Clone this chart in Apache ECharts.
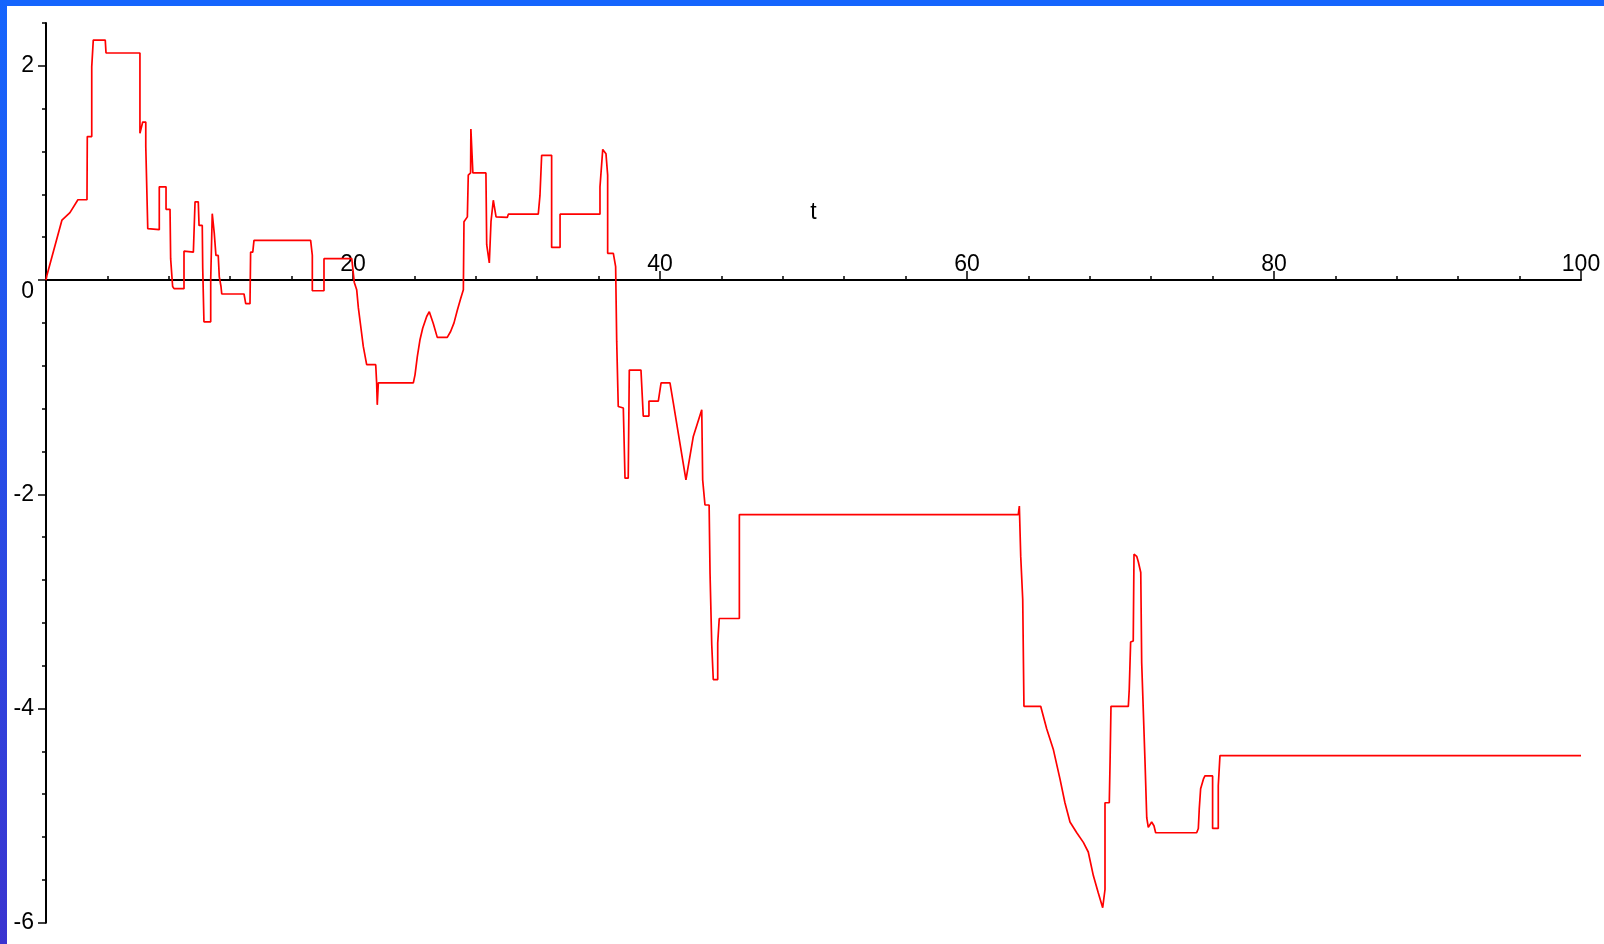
<!DOCTYPE html>
<html>
<head>
<meta charset="utf-8">
<title>t plot</title>
<script src="https://cdn.jsdelivr.net/npm/echarts@6/dist/echarts.min.js"></script>
<style>
  html, body { margin: 0; padding: 0; background: #ffffff; }
  #chart { width: 1604px; height: 944px; }
</style>
</head>
<body>
<div id="chart"></div>
<script>
// Sampled path: time values and the matching curve values
const tPoints = [
  0, 0.07, 1.04, 1.56, 2.08, 2.67, 2.69, 2.98, 2.98, 3.08, 3.08, 3.86, 3.91, 6.12, 6.12, 6.25, 6.3, 6.5, 6.5, 6.62,
  6.63, 7.38, 7.38, 7.82, 7.82, 8.08, 8.12, 8.25, 8.25, 8.34, 8.99, 8.99, 9.6, 9.71, 9.92, 9.97, 10.18, 10.21, 10.29, 10.29,
  10.73, 10.73, 10.83, 10.96, 11.07, 11.22, 11.29, 11.4, 11.45, 12.9, 13.01, 13.29, 13.33, 13.47, 13.55, 17.24, 17.35, 17.35, 18.11, 18.11,
  19.92, 20.08, 20.24, 20.35, 20.52, 20.67, 20.89, 21.48, 21.54, 21.58, 21.65, 23.93, 24.04, 24.19, 24.36, 24.54, 24.8, 24.97, 25.23, 25.49,
  26.14, 26.36, 26.58, 26.8, 27.02, 27.19, 27.23, 27.45, 27.51, 27.66, 27.68, 27.8, 27.81, 28.66, 28.71, 28.88, 28.99, 29.14, 29.32, 30.05,
  30.12, 32.07, 32.18, 32.29, 32.94, 32.94, 33.49, 33.49, 36.09, 36.09, 36.27, 36.48, 36.59, 36.59, 36.96, 37.11, 37.18, 37.28, 37.61, 37.72,
  37.93, 38.0, 38.76, 38.91, 39.28, 39.28, 39.89, 40.07, 40.65, 40.87, 41.19, 41.69, 42.17, 42.72, 42.78, 42.93, 43.2, 43.26, 43.37, 43.37,
  43.47, 43.47, 43.76, 43.76, 43.86, 43.86, 45.17, 45.17, 63.34, 63.41, 63.5, 63.63, 63.71, 64.8, 65.19, 65.62, 66.06, 66.38, 66.71, 67.15,
  67.58, 67.9, 68.23, 68.55, 68.84, 68.99, 68.99, 69.27, 69.32, 69.38, 70.51, 70.57, 70.66, 70.83, 70.88, 71.06, 71.16, 71.32, 71.38, 71.6,
  71.71, 71.81, 71.92, 72.03, 72.18, 72.29, 74.96, 75.07, 75.13, 75.22, 75.4, 75.5, 76.0, 76.0, 76.37, 76.37, 76.48, 100
];
const yPoints = [
  0, 0.05, 0.56, 0.63, 0.75, 0.75, 1.34, 1.34, 1.99, 1.99, 2.24, 2.24, 2.12, 2.12, 1.37, 1.37, 1.475, 1.475, 1.25, 1.25,
  0.48, 0.47, 0.87, 0.87, 0.66, 0.66, 0.2, 0.2, -0.06, -0.08, -0.08, 0.27, 0.26, 0.73, 0.73, 0.51, 0.51, 0.11, 0.11, -0.39,
  -0.39, 0, 0.62, 0.44, 0.23, 0.23, 0.03, -0.06, -0.13, -0.13, -0.22, -0.22, 0.26, 0.26, 0.37, 0.37, 0.23, -0.1, -0.1, 0.2,
  0.2, -0.02, -0.09, -0.26, -0.45, -0.62, -0.79, -0.79, -0.96, -1.165, -0.96, -0.96, -0.885, -0.715, -0.56, -0.45, -0.34, -0.295, -0.405, -0.535,
  -0.535, -0.48, -0.4, -0.28, -0.17, -0.09, 0.545, 0.59, 0.98, 1.0, 1.41, 1.41, 1.0, 1.0, 0.33, 0.16, 0.545, 0.745, 0.59, 0.585,
  0.615, 0.615, 0.79, 1.165, 1.165, 0.305, 0.305, 0.615, 0.615, 0.87, 1.22, 1.18, 0.98, 0.25, 0.25, 0.125, -0.575, -1.18, -1.195, -1.85,
  -1.85, -0.84, -0.84, -1.27, -1.27, -1.13, -1.13, -0.96, -0.96, -1.15, -1.43, -1.865, -1.46, -1.21, -1.865, -2.1, -2.1, -2.74, -2.74, -3.4,
  -3.4, -3.73, -3.73, -3.39, -3.39, -3.16, -3.16, -2.19, -2.19, -2.11, -2.58, -2.98, -3.98, -3.98, -4.19, -4.38, -4.66, -4.88, -5.06, -5.16,
  -5.25, -5.34, -5.56, -5.72, -5.86, -5.69, -4.88, -4.88, -4.5, -3.98, -3.98, -3.82, -3.38, -3.37, -2.56, -2.58, -2.63, -2.73, -3.57, -4.51,
  -5.02, -5.11, -5.095, -5.06, -5.095, -5.16, -5.16, -5.12, -4.94, -4.75, -4.66, -4.63, -4.63, -5.12, -5.12, -4.72, -4.44, -4.44
];

// Axis ranges and labelled ticks
const xRange = [0, 100];
const xMajorStep = 20;
const yRange = [-6, 2.4];
const yMinorStep = 0.4;
const yLabelTicks = [-6, -4, -2, 0, 2];
const xAxisName = 't';

const FONT = "'Liberation Sans', Arial, sans-serif";
const INK = '#000000';
const LABEL_SIZE = 23;

// Plot area
const WIDTH = 1604, HEIGHT = 944;
const gridLeft = 46, gridRight = 23, gridTop = 23, gridBottom = 21.3;
const plotHeight = HEIGHT - gridTop - gridBottom;
// The t axis crosses at value 0: shift it down from the top edge of the plot area
const zeroDrop = plotHeight * (yRange[1] - 0) / (yRange[1] - yRange[0]);

const linePoints = tPoints.map((t, i) => [t, yPoints[i]]);

const chart = echarts.init(document.getElementById('chart'), null, { renderer: 'canvas' });

const axisLineStyle = { color: INK, width: 2 };
const tickStyle = { color: INK, width: 1.5 };

chart.setOption({
  animation: false,
  backgroundColor: '#ffffff',
  graphic: [
    {
      type: 'rect', silent: true, z: 100,
      shape: { x: 0, y: 0, width: WIDTH, height: 6 },
      style: { fill: '#1565fd' }
    },
    {
      type: 'rect', silent: true, z: 100,
      shape: { x: 0, y: 0, width: 7, height: HEIGHT },
      style: {
        fill: new echarts.graphic.LinearGradient(0, 0, 0, 1, [
          { offset: 0, color: '#1565fd' },
          { offset: 1, color: '#3a34d0' }
        ])
      }
    }
  ],
  grid: {
    left: gridLeft, right: gridRight, top: gridTop, bottom: gridBottom,
    containLabel: false,
    outerBoundsMode: 'none'
  },
  xAxis: [{
    type: 'value',
    min: xRange[0],
    max: xRange[1],
    interval: xMajorStep,
    position: 'top',
    offset: -zeroDrop,
    name: xAxisName,
    nameLocation: 'middle',
    nameGap: 56,
    nameTextStyle: { color: INK, fontSize: LABEL_SIZE, fontFamily: FONT },
    axisLine: { show: true, onZero: false, lineStyle: axisLineStyle },
    axisTick: { show: true, length: 9, lineStyle: tickStyle },
    minorTick: { show: true, splitNumber: 5, length: 4, lineStyle: tickStyle },
    axisLabel: {
      margin: 4, color: INK, fontSize: LABEL_SIZE, fontFamily: FONT,
      formatter: v => (v === 0 ? '' : String(v))
    },
    splitLine: { show: false },
    minorSplitLine: { show: false }
  }],
  yAxis: [
    {
      type: 'value',
      min: yRange[0],
      max: yRange[1],
      interval: yMinorStep,
      axisLine: { show: true, onZero: false, lineStyle: axisLineStyle },
      axisTick: { show: true, length: 4, lineStyle: tickStyle },
      axisLabel: { show: false },
      splitLine: { show: false }
    },
    {
      type: 'value',
      min: yRange[0],
      max: yRange[1],
      position: 'left',
      axisLine: { show: false, onZero: false },
      axisTick: { show: true, length: 8, customValues: yLabelTicks, lineStyle: tickStyle },
      axisLabel: {
        customValues: yLabelTicks,
        margin: 12, color: INK, fontSize: LABEL_SIZE, fontFamily: FONT,
        formatter: v => (Math.abs(v) < 1e-9 ? '{z|0}' : String(v)),
        rich: { z: { color: INK, fontSize: LABEL_SIZE, fontFamily: FONT, padding: [24, 0, 0, 0] } }
      },
      splitLine: { show: false }
    }
  ],
  series: [{
    type: 'line',
    xAxisIndex: 0,
    yAxisIndex: 0,
    data: linePoints,
    showSymbol: false,
    symbol: 'none',
    smooth: false,
    lineStyle: { color: '#ff0000', width: 1.7 },
    z: 3
  }]
});
</script>
</body>
</html>
